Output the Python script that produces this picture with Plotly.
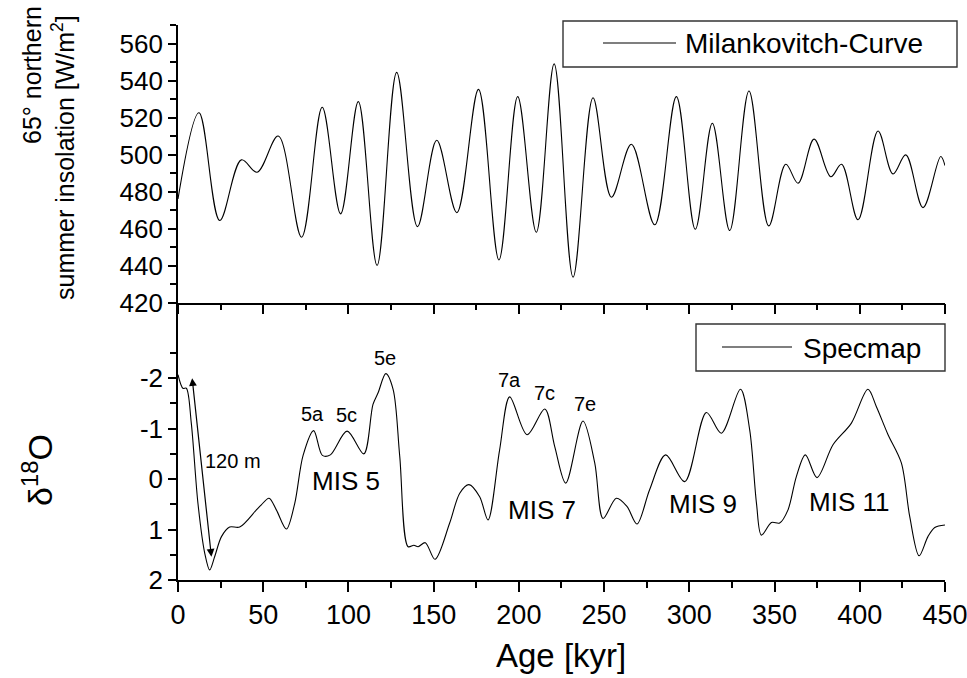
import plotly.graph_objects as go

# ---------------- data ----------------
milank_age = [0, 12.3, 24.5, 37.2, 46.4, 58.8, 72.5, 84.6, 95.4, 105.8, 116.8, 128.3,
              140.5, 151.8, 163.6, 176.3, 188.3, 199.3, 210.2, 220.7, 231.8, 243.5,
              254.3, 266, 279.7, 292.4, 303.5, 313.5, 323.7, 335, 346.6, 356.6, 363.8,
              373.2, 383, 389.3, 399, 410.7, 419.5, 427, 437.1, 447.5, 450]
milank_val = [476, 522.6, 464.3, 497.1, 490.4, 510, 455.3, 525.5, 467.9, 528.6, 440, 544.4,
              461, 507.7, 468.6, 535.2, 443, 531.3, 458, 549, 433.7, 530.7,
              476.9, 505.5, 462, 531.3, 459.6, 516.9, 458.9, 534.3, 461.4, 494.7, 484.5,
              508.3, 488, 494.7, 464.7, 512.7, 489.5, 499.8, 471.3, 498.9, 494]

spec_age = [0, 2.9, 4.9, 7.8, 11.7, 15.7, 18.6, 21.5, 25.5, 30.3, 36.2, 46, 48.9, 53.4,
            57.7, 63.6, 68.5, 73.4, 79.6, 84.7, 89.4, 99.2, 109, 114.4, 117.4, 121.9,
            126.2, 130.1, 135, 138.4, 140.9, 145.1, 150.8, 159.4, 165.3, 170.7, 177,
            181.9, 188.7, 194.6, 204.8, 215.2, 221, 227.5, 237.6, 244.5, 249.4, 257.2,
            263.4, 269.3, 276.7, 286.1, 297.3, 310, 318.8, 330, 335.4, 339.4, 342.3,
            348.2, 353, 357.9, 362.8, 368.1, 374.9, 384.3, 395.1, 404.8, 409.7, 416.6,
            424.4, 429.3, 434.8, 440, 444, 450]
spec_val = [-2.07, -1.80, -1.80, -1.11, 0.48, 1.47, 1.80, 1.54, 1.14, 0.95, 0.95, 0.61, 0.51, 0.38,
            0.61, 0.99, 0.48, -0.47, -0.96, -0.47, -0.48, -0.95, -0.50, -1.48, -1.71, -2.09,
            -1.78, -0.45, 1.34, 1.31, 1.34, 1.26, 1.59, 0.87, 0.28, 0.11, 0.35,
            0.81, -0.58, -1.63, -0.88, -1.39, -0.65, 0.08, -1.15, -0.32, 0.78, 0.38,
            0.54, 0.89, 0.21, -0.48, 0.05, -1.32, -0.91, -1.78, -0.98, 0.48, 1.11,
            0.86, 0.87, 0.61, -0.05, -0.48, -0.03, -0.68, -1.11, -1.78, -1.44, -0.88,
            -0.32, 0.74, 1.52, 1.14, 0.96, 0.91]

substage_labels = ["5a", "5c", "5e", "7a", "7c", "7e"]
substage_age = [79.2, 98.8, 121.3, 194.6, 215.2, 238.6]
substage_val = [-1.29, -1.28, -2.40, -1.96, -1.70, -1.48]

mis_labels = ["MIS 5", "MIS 7", "MIS 9", "MIS 11"]
mis_age = [98.8, 213.7, 307.8, 393.5]
mis_val = [0.03, 0.62, 0.49, 0.45]

arrow_from = (8.2, -2.03)
arrow_to = (19.6, 1.54)
arrow_label = "120 m"
arrow_label_pos = (32.0, -0.36)

x_ticks = list(range(0, 451, 50))
x_minor = list(range(25, 451, 50))
top_ticks = list(range(420, 561, 20))
top_minor = list(range(430, 571, 20))
bot_ticks = [-2, -1, 0, 1, 2]
bot_ticktext = ["-2", "-1", "0", "1", "2"]
bot_minor = [-2.5, -1.5, -0.5, 0.5, 1.5]

FONT = "Arial, Liberation Sans, sans-serif"

fig = go.Figure()
fig.add_trace(go.Scatter(x=milank_age, y=milank_val, mode="lines", name="Milankovitch-Curve",
                         line=dict(color="black", width=1.1, shape="spline", smoothing=1.0),
                         xaxis="x2", yaxis="y", showlegend=False))
fig.add_trace(go.Scatter(x=spec_age, y=spec_val, mode="lines", name="Specmap",
                         line=dict(color="black", width=1.1, shape="spline", smoothing=0.9),
                         xaxis="x", yaxis="y2", showlegend=False))

axis_common = dict(showline=True, linecolor="black", linewidth=1.6, ticks="outside",
                   tickcolor="black", tickwidth=1.6, showgrid=False, zeroline=False,
                   ticklabeloverflow="allow", automargin=False)
minor_common = dict(tickmode="array", ticklen=6, ticks="outside", tickcolor="black",
                    tickwidth=1.6)
yfont = dict(family=FONT, size=26, color="black")
xfont = dict(family=FONT, size=27, color="black")

fig.update_layout(
    width=967, height=678,
    margin=dict(l=178, r=22, t=25, b=98, autoexpand=False),
    paper_bgcolor="white", plot_bgcolor="white",
    font=dict(family=FONT, color="black"),
    xaxis=dict(domain=[0, 1], anchor="y2", range=[0, 450.01], tickmode="array",
               tickvals=x_ticks, ticklen=10, tickfont=xfont,
               minor=dict(tickvals=x_minor, **minor_common), **axis_common),
    xaxis2=dict(domain=[0, 1], anchor="y", matches="x", tickmode="array",
                tickvals=x_ticks, showticklabels=False, ticklen=10,
                minor=dict(tickvals=x_minor, **minor_common), **axis_common),
    yaxis=dict(domain=[0.5, 1], anchor="x2", range=[420, 570], tickmode="array",
               tickvals=top_ticks, ticklen=8, tickfont=yfont,
               minor=dict(tickvals=top_minor, **minor_common), **axis_common),
    yaxis2=dict(domain=[0, 0.5], anchor="x", range=[2, -3.5], tickmode="array",
                tickvals=bot_ticks, ticktext=bot_ticktext, ticklen=8, tickfont=yfont,
                minor=dict(tickvals=bot_minor, **minor_common), **axis_common),
)

ann = []
for t, a, v in zip(substage_labels, substage_age, substage_val):
    ann.append(dict(x=a, y=v, xref="x", yref="y2", text=t, showarrow=False,
                    xanchor="center", yanchor="middle",
                    font=dict(family=FONT, size=20, color="black")))
for t, a, v in zip(mis_labels, mis_age, mis_val):
    ann.append(dict(x=a, y=v, xref="x", yref="y2", text=t, showarrow=False,
                    xanchor="center", yanchor="middle",
                    font=dict(family=FONT, size=26, color="black")))
# double-headed arrow
ann.append(dict(x=arrow_to[0], y=arrow_to[1], ax=arrow_from[0], ay=arrow_from[1],
                xref="x", yref="y2", axref="x", ayref="y2", text="", showarrow=True,
                arrowhead=2, arrowside="end+start", arrowsize=1.3, arrowwidth=1.2,
                arrowcolor="black"))
ann.append(dict(x=arrow_label_pos[0], y=arrow_label_pos[1], xref="x", yref="y2",
                text=arrow_label, showarrow=False, bgcolor="white", borderpad=1,
                xanchor="center", yanchor="middle",
                font=dict(family=FONT, size=20, color="black")))


def px_x(p):
    return (p - 178) / 767.0


def px_y(p):
    return (580 - p) / 555.0


# axis titles
ann.append(dict(x=px_x(561), y=px_y(655), xref="paper", yref="paper", text="Age [kyr]",
                xanchor="center", yanchor="middle",
                showarrow=False, font=dict(family=FONT, size=33, color="black")))
ann.append(dict(x=px_x(32), y=px_y(75), xref="paper", yref="paper", text="65° northern",
                xanchor="center", yanchor="middle",
                textangle=-90, showarrow=False, font=dict(family=FONT, size=25, color="black")))
ann.append(dict(x=px_x(63), y=px_y(157), xref="paper", yref="paper",
                text="summer insolation [W/m<sup>2</sup>]",
                xanchor="center", yanchor="middle",
                textangle=-90, showarrow=False, font=dict(family=FONT, size=25, color="black")))
ann.append(dict(x=px_x(37), y=px_y(470), xref="paper", yref="paper",
                text="δ<sup>18</sup>O",
                xanchor="center", yanchor="middle",
                textangle=-90, showarrow=False, font=dict(family=FONT, size=34, color="black")))

# legend boxes (drawn manually to match the original layout)
shapes = [
    dict(type="rect", xref="paper", yref="paper", x0=px_x(563), x1=px_x(957),
         y0=px_y(67), y1=px_y(21), line=dict(color="#333333", width=1.4), fillcolor="white",
         layer="above"),
    dict(type="line", xref="paper", yref="paper", x0=px_x(603), x1=px_x(676),
         y0=px_y(43), y1=px_y(43), line=dict(color="black", width=1.1)),
    dict(type="rect", xref="paper", yref="paper", x0=px_x(696), x1=px_x(945),
         y0=px_y(371), y1=px_y(324), line=dict(color="#333333", width=1.4), fillcolor="white",
         layer="above"),
    dict(type="line", xref="paper", yref="paper", x0=px_x(722), x1=px_x(792),
         y0=px_y(347), y1=px_y(347), line=dict(color="black", width=1.1)),
]
ann.append(dict(x=px_x(683), y=px_y(44), xref="paper", yref="paper", xanchor="left",
                yanchor="middle", text="Milankovitch-Curve", showarrow=False,
                font=dict(family=FONT, size=28, color="black")))
ann.append(dict(x=px_x(801), y=px_y(348), xref="paper", yref="paper", xanchor="left",
                yanchor="middle", text="Specmap", showarrow=False,
                font=dict(family=FONT, size=28, color="black")))

fig.update_layout(annotations=ann, shapes=shapes)
fig.write_html("out.html")
